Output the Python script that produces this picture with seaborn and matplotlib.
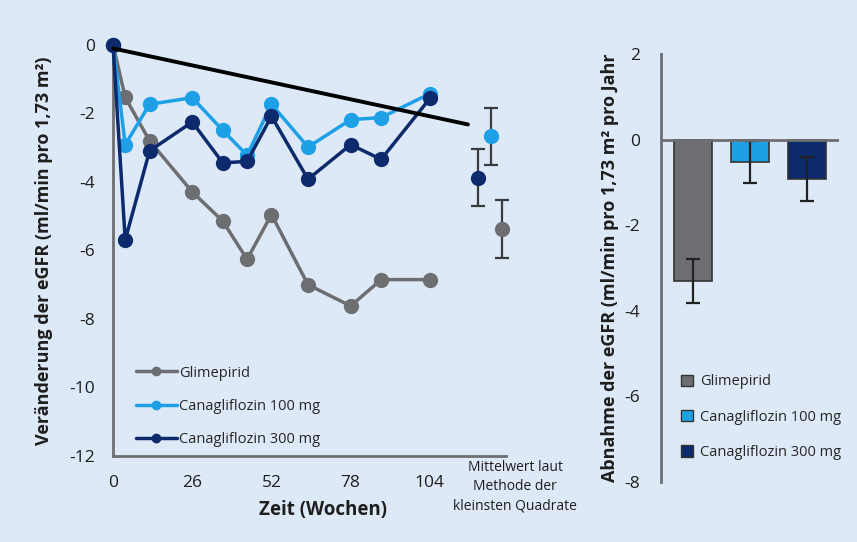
import matplotlib
matplotlib.use("Agg")
import matplotlib.pyplot as plt
import seaborn as sns
import pandas as pd
from matplotlib.lines import Line2D
from matplotlib.patches import Patch

# Study weeks and mean eGFR change per group
weeks = [0, 4, 12, 26, 36, 44, 52, 64, 78, 88, 104]
glimepirid = [0, -1.53, -2.80, -4.29, -5.14, -6.26, -4.95, -7.00, -7.62, -6.85, -6.85]
cana100 = [0, -2.91, -1.73, -1.54, -2.49, -3.22, -1.73, -2.98, -2.18, -2.12, -1.42]
cana300 = [0, -5.69, -3.09, -2.25, -3.44, -3.40, -2.08, -3.92, -2.91, -3.34, -1.56]

groups = ["Glimepirid", "Canagliflozin 100 mg", "Canagliflozin 300 mg"]
colors = ["#6d6e71", "#1ea0e6", "#0c2a6c"]

# Least-squares means at end of study with error bars
ls_x = [127.8, 123.9, 119.9]
ls_mean = [-5.37, -2.67, -3.87]
ls_err = [0.85, 0.83, 0.84]

# Trend line
trend_x = [0, 116.5]
trend_y = [-0.1, -2.32]

# Annual eGFR decline per group
slope_mean = [-3.30, -0.52, -0.92]
slope_err = [0.52, 0.50, 0.52]

bg = "#dde9f7"
axis_gray = "#6d6e71"
text_col = "#1e1e1e"

sns.set_theme(style="white")
plt.rcParams["font.family"] = ["Open Sans", "DejaVu Sans"]

fig = plt.figure(figsize=(8.57, 5.42), dpi=100)
fig.patch.set_facecolor(bg)

# ---- left panel: time course ----
ax = fig.add_axes([0.1319, 0.1587, 0.4586, 0.7583])
ax.set_facecolor(bg)

df = pd.DataFrame({
    "Woche": weeks * 3,
    "Wert": glimepirid + cana100 + cana300,
    "Gruppe": [groups[0]] * len(weeks) + [groups[1]] * len(weeks) + [groups[2]] * len(weeks),
})
for g, c in zip(groups, colors):
    sns.lineplot(data=df[df["Gruppe"] == g], x="Woche", y="Wert", ax=ax, color=c,
                 marker="o", markersize=11, markeredgewidth=0, linewidth=2.5,
                 clip_on=False, legend=False, zorder=3)

ax.plot(trend_x, trend_y, color="black", linewidth=2.8, zorder=4, clip_on=False)

for x, m, e, c in zip(ls_x, ls_mean, ls_err, colors):
    ax.errorbar([x], [m], yerr=[e], fmt="none", ecolor="#3a3b3d", elinewidth=1.6,
                capsize=5, capthick=1.6, clip_on=False, zorder=3)
    ax.plot([x], [m], "o", color=c, markersize=11, markeredgewidth=0,
            clip_on=False, zorder=5)

ax.set_xlim(0, 129)
ax.set_ylim(-12, 0)
ax.set_xticks([0, 26, 52, 78, 104])
ax.set_yticks([0, -2, -4, -6, -8, -10, -12])
ax.set_yticklabels(["0", "-2", "-4", "-6", "-8", "-10", "-12"])
for s in ["top", "right"]:
    ax.spines[s].set_visible(False)
for s in ["left", "bottom"]:
    ax.spines[s].set_color(axis_gray)
    ax.spines[s].set_linewidth(2)
ax.tick_params(axis="both", colors=axis_gray, labelcolor=text_col, labelsize=12.5,
               length=5, width=1.5, direction="out")
ax.tick_params(axis="x", pad=9)
ax.tick_params(axis="y", pad=8)
ax.set_xlabel("Zeit (Wochen)", fontsize=13.5, fontweight="bold", color=text_col)
ax.xaxis.set_label_coords(0.535, -0.108)
ax.set_ylabel("Veränderung der eGFR (ml/min pro 1,73 m²)", fontsize=13,
              fontweight="bold", color=text_col, labelpad=12)
fig.text(515 / 857, 1 - 460 / 542, "Mittelwert laut\nMethode der\nkleinsten Quadrate",
         ha="center", va="top", fontsize=10, color=text_col, linespacing=1.4)

line_handles = [Line2D([0], [0], color=c, marker="o", markersize=6, linewidth=2.5)
                for c in colors]
ax.legend(line_handles, groups, loc="lower left", bbox_to_anchor=(0.025, -0.01),
          frameon=False, fontsize=10.5, handlelength=2.8, handletextpad=0.15,
          labelspacing=1.25)

# ---- right panel: annual decline ----
ax2 = fig.add_axes([0.7713, 0.1113, 0.2077, 0.7886])
ax2.set_facecolor(bg)
sdf = pd.DataFrame({"Gruppe": groups, "Wert": slope_mean})
sns.barplot(data=sdf, x="Gruppe", y="Wert", hue="Gruppe", palette=colors,
            width=0.67, edgecolor="#333333", linewidth=1.2, ax=ax2, legend=False,
            saturation=1, zorder=2)
ax2.errorbar(range(3), slope_mean, yerr=slope_err, fmt="none", ecolor="#222222",
             elinewidth=1.6, capsize=5, capthick=1.6, zorder=3)
ax2.axhline(0, color=axis_gray, linewidth=2, zorder=4)
ax2.set_xlim(-0.57, 2.56)
ax2.set_ylim(-8, 2)
ax2.set_yticks([2, 0, -2, -4, -6, -8])
ax2.set_yticklabels(["2", "0", "-2", "-4", "-6", "-8"])
ax2.set_xticks([])
ax2.set_xlabel("")
for s in ["top", "right", "bottom"]:
    ax2.spines[s].set_visible(False)
ax2.spines["left"].set_color(axis_gray)
ax2.spines["left"].set_linewidth(2)
ax2.tick_params(axis="y", colors=axis_gray, labelcolor=text_col, labelsize=12.5,
                length=5, width=1.5, direction="out", pad=10)
ax2.set_ylabel("Abnahme der eGFR (ml/min pro 1,73 m² pro Jahr", fontsize=13,
               fontweight="bold", color=text_col, labelpad=4)

patch_handles = [Patch(facecolor=c, edgecolor="#333333", linewidth=1) for c in colors]
ax2.legend(patch_handles, groups, loc="lower left", bbox_to_anchor=(0.04, 0.02),
           frameon=False, fontsize=10.5, handlelength=0.8, handleheight=0.8,
           handletextpad=0.5, labelspacing=1.4)

fig.savefig("out.png", dpi=100, facecolor=bg)
